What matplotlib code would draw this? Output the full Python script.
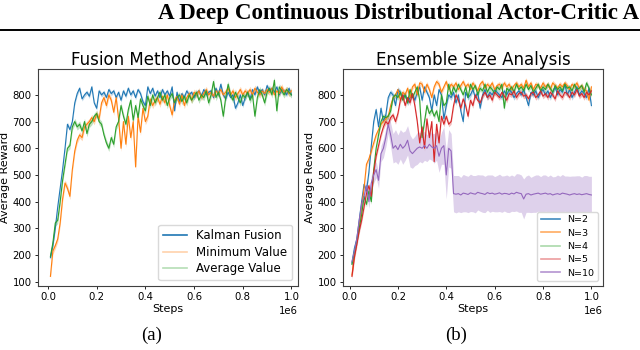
import numpy as np
import matplotlib
matplotlib.use('Agg')
import matplotlib.pyplot as plt
from matplotlib.lines import Line2D

# Evaluation steps (every 10k steps up to 1e6)
steps = np.arange(1, 101) * 10000

# Fusion method analysis (left panel)
kalman = [190, 235, 300, 380, 450, 520, 600, 690, 670, 700,
          770, 805, 825, 785, 800, 810, 795, 830, 770, 750,
          815, 800, 810, 790, 820, 805, 815, 790, 810, 780,
          815, 795, 825, 800, 815, 790, 820, 805, 775, 760,
          830, 805, 825, 795, 815, 790, 820, 800, 815, 795,
          830, 740, 810, 775, 805, 790, 815, 800, 810, 790,
          805, 815, 795, 820, 800, 810, 815, 790, 825, 800,
          840, 800, 785, 810, 790, 800, 750, 770, 800, 760,
          790, 810, 785, 820, 800, 830, 805, 820, 800, 835,
          815, 825, 810, 830, 800, 820, 815, 800, 825, 800]
minimum = [120, 215, 235, 260, 320, 410, 470, 450, 420, 520,
           590, 630, 650, 640, 680, 690, 700, 715, 700, 730,
           710, 770, 790, 760, 800, 780, 735, 790, 710, 600,
           700, 615, 720, 640, 700, 530, 720, 660, 750, 700,
           720, 785, 760, 780, 790, 765, 795, 770, 800, 760,
           725, 780, 795, 765, 800, 760, 790, 805, 780, 810,
           800, 815, 790, 805, 820, 800, 810, 795, 815, 805,
           820, 800, 810, 825, 800, 815, 790, 805, 820, 800,
           815, 805, 820, 800, 825, 810, 800, 815, 805, 820,
           810, 825, 800, 815, 805, 830, 810, 820, 805, 815]
average = [195, 245, 320, 330, 400, 480, 540, 600, 610, 680,
           700, 680, 690, 665, 700, 655, 690, 700, 720, 730,
           700, 690, 650, 620, 600, 640, 615, 680, 700, 760,
           720, 690, 745, 780, 705, 760, 715, 785, 760, 740,
           795, 760, 800, 770, 790, 810, 780, 800, 760, 790,
           805, 770, 790, 800, 775, 795, 770, 800, 780, 795,
           810, 780, 800, 790, 815, 770, 800, 850, 790, 810,
           780, 720, 790, 840, 800, 780, 810, 790, 770, 800,
           790, 810, 780, 800, 720, 790, 820, 800, 770, 810,
           825, 800, 855, 740, 830, 815, 800, 820, 810, 800]
fusion_bands = [8, 12, 12]

# Ensemble size analysis (right panel)
n2 = [170, 225, 260, 330, 400, 465, 440, 510, 610, 700,
      745, 680, 750, 700, 725, 790, 810, 800, 760, 820,
      810, 790, 805, 770, 790, 800, 780, 810, 830, 780,
      830, 810, 790, 740, 800, 760, 820, 800, 710, 760,
      800, 790, 810, 770, 800, 740, 700, 810, 790, 800,
      820, 790, 810, 750, 800, 820, 790, 810, 800, 820,
      810, 800, 790, 815, 800, 820, 810, 790, 805, 815,
      800, 820, 790, 760, 810, 800, 815, 790, 810, 820,
      800, 815, 790, 810, 830, 800, 820, 810, 840, 800,
      820, 790, 810, 830, 800, 815, 805, 790, 825, 760]
n3 = [125, 200, 250, 310, 380, 450, 540, 560, 590, 620,
      650, 670, 690, 700, 710, 720, 760, 790, 800, 820,
      780, 810, 800, 825, 790, 830, 840, 800, 845, 840,
      810, 840, 820, 790, 830, 850, 840, 810, 830, 850,
      820, 840, 830, 845, 820, 835, 850, 830, 840, 820,
      845, 830, 815, 840, 850, 825, 840, 830, 845, 820,
      835, 840, 825, 845, 830, 840, 820, 835, 845, 830,
      840, 825, 855, 830, 845, 820, 840, 835, 825, 845,
      830, 840, 820, 845, 835, 825, 840, 830, 845, 835,
      820, 840, 830, 845, 825, 835, 820, 815, 780, 830]
n4 = [165, 210, 250, 300, 350, 420, 390, 440, 400, 520,
      600, 650, 700, 720, 715, 720, 740, 790, 800, 790,
      810, 780, 800, 770, 820, 790, 810, 830, 780, 640,
      700, 760, 730, 745, 720, 740, 700, 800, 760, 770,
      840, 800, 830, 810, 840, 820, 800, 830, 790, 840,
      820, 835, 800, 825, 815, 840, 810, 830, 820, 805,
      830, 820, 840, 750, 825, 815, 830, 810, 840, 820,
      830, 815, 840, 820, 835, 810, 825, 840, 815, 830,
      820, 840, 825, 810, 835, 820, 830, 815, 840, 825,
      830, 815, 840, 820, 825, 835, 810, 845, 825, 800]
n5 = [120, 190, 240, 290, 330, 380, 430, 460, 420, 510,
      570, 610, 650, 680, 700, 690, 715, 725, 700, 730,
      780, 800, 760, 790, 770, 805, 760, 700, 620, 680,
      600, 710, 640, 700, 550, 690, 620, 720, 690, 720,
      690, 700, 760, 800, 780, 750, 785, 760, 720, 780,
      760, 800, 780, 770, 795, 810, 790, 800, 780, 810,
      800, 790, 810, 795, 780, 805, 800, 815, 790, 805,
      810, 795, 800, 785, 805, 810, 790, 800, 815, 795,
      805, 790, 810, 800, 785, 815, 800, 790, 810, 805,
      790, 810, 800, 820, 795, 805, 790, 810, 800, 815]
n10 = [175, 215, 260, 330, 390, 420, 460, 400, 470, 500,
       520, 480, 580, 600, 640, 690, 650, 600, 610, 595,
       615, 600, 610, 630, 590, 580, 590, 600, 605, 600,
       610, 600, 615, 605, 600, 610, 570, 600, 610, 500,
       600, 590, 430, 428, 430, 425, 432, 430, 427, 433,
       430, 428, 435, 432, 430, 427, 434, 430, 432, 428,
       430, 433, 428, 431, 430, 427, 432, 429, 435, 432,
       430, 410, 428, 430, 425, 428, 430, 432, 428, 430,
       432, 428, 430, 425, 428, 430, 427, 432, 430, 428,
       425, 428, 430, 427, 429, 426, 428, 430, 427, 425]
n10_band = [15, 15, 20, 20, 20, 20, 25, 25, 30, 30,
            30, 30, 30, 35, 35, 35, 45, 55, 60, 55,
            55, 60, 55, 55, 60, 55, 55, 60, 55, 55,
            55, 50, 55, 50, 55, 55, 60, 60, 70, 90,
            70, 65, 68, 70, 68, 66, 70, 68, 68, 70,
            68, 70, 66, 68, 70, 68, 66, 70, 68, 66,
            68, 70, 68, 66, 70, 68, 68, 66, 70, 72,
            70, 75, 68, 70, 66, 68, 70, 68, 66, 70,
            68, 66, 70, 68, 66, 70, 68, 70, 66, 68,
            70, 68, 66, 70, 68, 66, 70, 68, 68, 70]
ensemble_bands = [10, 10, 10, 10]

fusion_labels = ['Kalman Fusion', 'Minimum Value', 'Average Value']
ensemble_labels = ['N=2', 'N=3', 'N=4', 'N=5', 'N=10']
colors = ['#1f77b4', '#ff7f0e', '#2ca02c', '#d62728', '#9467bd']

TICK_SIZE = 7.3
LABEL_SIZE = 8


def plot_panel(ax, series, bands, title, xlim):
    for i, (y, b) in enumerate(zip(series, bands)):
        y = np.asarray(y, dtype=float)
        b = np.asarray(b, dtype=float)
        ax.fill_between(steps, y - b, y + b, color=colors[i], alpha=0.3, lw=0)
        ax.plot(steps, y, color=colors[i], lw=0.8)

    ax.set_xlim(*xlim)
    ax.set_ylim(84, 897)
    ax.set_yticks(np.arange(100, 801, 100))
    ax.set_xticks(np.arange(0, 1.01, 0.2) * 1e6)
    ax.ticklabel_format(axis='x', style='sci', scilimits=(0, 0))
    ax.xaxis.get_offset_text().set_fontsize(TICK_SIZE)
    ax.tick_params(labelsize=TICK_SIZE, length=2.5, width=0.6, pad=2)
    for s in ax.spines.values():
        s.set_linewidth(0.8)
        s.set_color('0.25')

    ax.set_title(title, fontsize=12, pad=3)
    ax.set_xlabel('Steps', fontsize=LABEL_SIZE, labelpad=1)
    ax.set_ylabel('Average Reward', fontsize=LABEL_SIZE, labelpad=2)


def add_legend(ax, labels, alphas, fontsize, spacing):
    # Legend handles are drawn faded, like the original figure
    handles = [Line2D([], [], color=colors[i], lw=1.2, alpha=a)
               for i, a in enumerate(alphas)]
    ax.legend(handles, labels, loc='lower right', fontsize=fontsize,
              handlelength=2.0, borderpad=0.4, labelspacing=spacing,
              framealpha=1.0, edgecolor='0.85', fancybox=True)


fig = plt.figure(figsize=(6.4, 3.5), dpi=100)

# Paper running header and rule
fig.text(158 / 640, 1 - 13 / 350, 'A Deep Continuous Distributional Actor-Critic A',
         family='Liberation Serif', weight='bold', fontsize=16.6, va='center', ha='left')
fig.add_artist(Line2D([0, 1], [1 - 29.5 / 350] * 2, color='black', lw=1.4,
                      transform=fig.transFigure))

ax1 = fig.add_axes([38 / 640, 1 - 286 / 350, 260 / 640, 217 / 350])
ax2 = fig.add_axes([343 / 640, 1 - 286 / 350, 260 / 640, 217 / 350])

plot_panel(ax1, [kalman, minimum, average], fusion_bands,
           'Fusion Method Analysis', (-0.041e6, 1.027e6))
plot_panel(ax2, [n2, n3, n4, n5, n10], ensemble_bands + [n10_band],
           'Ensemble Size Analysis', (-0.027e6, 1.048e6))

add_legend(ax1, fusion_labels, [1.0, 0.35, 0.35], 8.5, 0.3)
add_legend(ax2, ensemble_labels, [0.85, 0.65, 0.4, 0.45, 0.7], 6.8, 0.45)

# Subfigure captions
fig.text(152 / 640, 1 - 335 / 350, '(a)', family='Liberation Serif',
         fontsize=13.5, ha='center', va='center')
fig.text(456 / 640, 1 - 335 / 350, '(b)', family='Liberation Serif',
         fontsize=13.5, ha='center', va='center')

fig.savefig('out.png', dpi=100)
